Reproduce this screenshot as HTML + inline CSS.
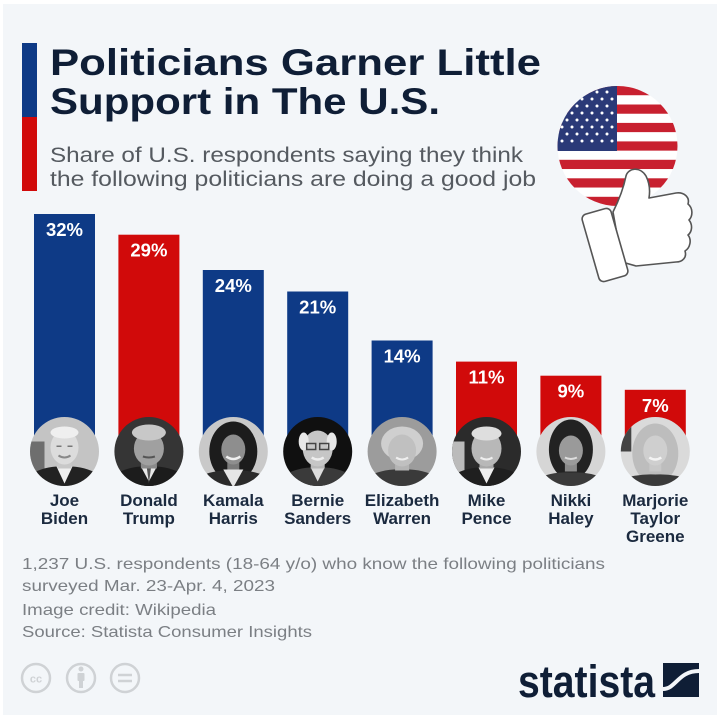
<!DOCTYPE html>
<html><head><meta charset="utf-8">
<style>
html,body{margin:0;padding:0;background:#fff;}
svg{display:block;}
text{font-family:"Liberation Sans",sans-serif;}
</style></head>
<body>
<svg width="720" height="720" viewBox="0 0 720 720" xmlns="http://www.w3.org/2000/svg">
<defs>
  <clipPath id="pc"><circle cx="0" cy="0" r="34.5"/></clipPath>
  <clipPath id="fc"><circle cx="617.5" cy="146" r="60"/></clipPath>
</defs>
<rect x="0" y="0" width="720" height="720" fill="#ffffff"/>
<rect x="3" y="4" width="714" height="711" fill="#f3f6f9"/>

<!-- left accent bar -->
<rect x="22" y="43" width="15" height="74" fill="#0e3a86"/>
<rect x="22" y="117" width="15" height="74" fill="#d10a0a"/>

<!-- title -->
<text x="50" y="75" font-size="37" font-weight="bold" fill="#0f1e36" textLength="491" lengthAdjust="spacingAndGlyphs">Politicians Garner Little</text>
<text x="50" y="114" font-size="37" font-weight="bold" fill="#0f1e36" textLength="390" lengthAdjust="spacingAndGlyphs">Support in The U.S.</text>
<text x="50" y="162" font-size="21" fill="#555a60" textLength="473" lengthAdjust="spacingAndGlyphs">Share of U.S. respondents saying they think</text>
<text x="50" y="186" font-size="21" fill="#555a60" textLength="486" lengthAdjust="spacingAndGlyphs">the following politicians are doing a good job</text>

<!-- flag -->
<g clip-path="url(#fc)">
  <rect x="555" y="84" width="125" height="125" fill="#ffffff"/>
  <g fill="#c8202f">
    <rect x="555" y="86" width="125" height="9.23"/>
    <rect x="555" y="104.5" width="125" height="9.23"/>
    <rect x="555" y="122.9" width="125" height="9.23"/>
    <rect x="555" y="141.4" width="125" height="9.23"/>
    <rect x="555" y="159.8" width="125" height="9.23"/>
    <rect x="555" y="178.3" width="125" height="9.23"/>
    <rect x="555" y="196.8" width="125" height="9.23"/>
  </g>
  <rect x="555" y="84" width="62" height="67" fill="#2b3a78"/>
  <g fill="#ffffff">
    <circle cx="567" cy="92" r="1.5"/><circle cx="577" cy="92" r="1.5"/><circle cx="587" cy="92" r="1.5"/><circle cx="597" cy="92" r="1.5"/><circle cx="607" cy="92" r="1.5"/>
    <circle cx="562" cy="99" r="1.5"/><circle cx="572" cy="99" r="1.5"/><circle cx="582" cy="99" r="1.5"/><circle cx="592" cy="99" r="1.5"/><circle cx="602" cy="99" r="1.5"/><circle cx="612" cy="99" r="1.5"/>
    <circle cx="567" cy="106" r="1.5"/><circle cx="577" cy="106" r="1.5"/><circle cx="587" cy="106" r="1.5"/><circle cx="597" cy="106" r="1.5"/><circle cx="607" cy="106" r="1.5"/>
    <circle cx="562" cy="113" r="1.5"/><circle cx="572" cy="113" r="1.5"/><circle cx="582" cy="113" r="1.5"/><circle cx="592" cy="113" r="1.5"/><circle cx="602" cy="113" r="1.5"/><circle cx="612" cy="113" r="1.5"/>
    <circle cx="567" cy="120" r="1.5"/><circle cx="577" cy="120" r="1.5"/><circle cx="587" cy="120" r="1.5"/><circle cx="597" cy="120" r="1.5"/><circle cx="607" cy="120" r="1.5"/>
    <circle cx="562" cy="127" r="1.5"/><circle cx="572" cy="127" r="1.5"/><circle cx="582" cy="127" r="1.5"/><circle cx="592" cy="127" r="1.5"/><circle cx="602" cy="127" r="1.5"/><circle cx="612" cy="127" r="1.5"/>
    <circle cx="567" cy="134" r="1.5"/><circle cx="577" cy="134" r="1.5"/><circle cx="587" cy="134" r="1.5"/><circle cx="597" cy="134" r="1.5"/><circle cx="607" cy="134" r="1.5"/>
    <circle cx="562" cy="141" r="1.5"/><circle cx="572" cy="141" r="1.5"/><circle cx="582" cy="141" r="1.5"/><circle cx="592" cy="141" r="1.5"/><circle cx="602" cy="141" r="1.5"/><circle cx="612" cy="141" r="1.5"/>
  </g>
</g>

<!-- thumbs up -->
<g fill="#ffffff" stroke="#555" stroke-width="1.6" stroke-linejoin="round">
  <path d="M613,212 C619,200 624,186 626,176 C628,168 640,166 646,176 C650,184 650,192 649,198 L676,193 C684,192 690,197 688,204 C693,208 693,216 689,220 C693,225 692,232 688,235 C692,240 690,248 685,251 C687,257 683,262 676,262 L636,266 L622,262 Z"/>
  <rect x="590" y="210" width="30" height="70" rx="5" transform="rotate(-16 605 245)"/>
</g>

<!-- bars -->
<g>
  <rect x="34" y="214" width="61" height="236" fill="#0e3a86"/>
  <rect x="118.4" y="234.7" width="61" height="215.3" fill="#d10a0a"/>
  <rect x="202.8" y="270" width="61" height="180" fill="#0e3a86"/>
  <rect x="287.2" y="291.5" width="61" height="158.5" fill="#0e3a86"/>
  <rect x="371.6" y="340.5" width="61" height="109.5" fill="#0e3a86"/>
  <rect x="456" y="361.6" width="61" height="88.4" fill="#d10a0a"/>
  <rect x="540.4" y="375.7" width="61" height="74.3" fill="#d10a0a"/>
  <rect x="624.8" y="389.8" width="61" height="60.2" fill="#d10a0a"/>
</g>
<g font-size="18.5" font-weight="bold" fill="#ffffff" text-anchor="middle">
  <text x="64.5" y="236">32%</text>
  <text x="148.9" y="256.7">29%</text>
  <text x="233.3" y="292">24%</text>
  <text x="317.7" y="313.5">21%</text>
  <text x="402.1" y="362.5">14%</text>
  <text x="486.5" y="383.6">11%</text>
  <text x="570.9" y="397.7">9%</text>
  <text x="655.3" y="411.8">7%</text>
</g>

<!-- portraits -->
<!-- Biden -->
<g transform="translate(64.5,451.5)" clip-path="url(#pc)">
  <rect x="-36" y="-36" width="72" height="72" fill="#c4c4c4"/>
  <rect x="-36" y="-10" width="16" height="46" fill="#6e6e6e"/>
  <path d="M-36,36 L-36,24 Q-20,14 0,15 Q20,14 36,24 L36,36 Z" fill="#222"/>
  <path d="M-8,15 L0,32 L8,15 Z" fill="#f0f0f0"/>
  <rect x="-7" y="4" width="14" height="13" fill="#c8c8c8"/>
  <ellipse cx="0" cy="-4" rx="14" ry="17" fill="#dcdcdc"/>
  <ellipse cx="0" cy="-19" rx="14" ry="6" fill="#efefef"/>
  <path d="M-6,4 Q0,8 6,4" stroke="#888" stroke-width="2" fill="none"/>
  <rect x="-8" y="-6" width="5" height="1.5" fill="#777"/><rect x="3" y="-6" width="5" height="1.5" fill="#777"/>
</g>
<!-- Trump -->
<g transform="translate(148.9,451.5)" clip-path="url(#pc)">
  <rect x="-36" y="-36" width="72" height="72" fill="#353535"/>
  <path d="M-36,36 L-36,24 Q-20,14 0,15 Q20,14 36,24 L36,36 Z" fill="#1c1c1c"/>
  <path d="M-8,15 L0,30 L8,15 Z" fill="#e8e8e8"/>
  <path d="M-2,17 L0,32 L2,17 Z" fill="#555"/>
  <rect x="-8" y="4" width="16" height="13" fill="#8a8a8a"/>
  <ellipse cx="0" cy="-3" rx="15" ry="17" fill="#a0a0a0"/>
  <ellipse cx="0" cy="-19" rx="17" ry="8" fill="#c8c8c8"/>
  <path d="M-6,5 Q0,7 6,5" stroke="#555" stroke-width="2" fill="none"/>
</g>
<!-- Harris -->
<g transform="translate(233.3,451.5)" clip-path="url(#pc)">
  <rect x="-36" y="-36" width="72" height="72" fill="#c9c9c9"/>
  <ellipse cx="0" cy="0" rx="24" ry="30" fill="#1c1c1c"/>
  <path d="M-36,36 L-36,26 Q-20,18 0,19 Q20,18 36,26 L36,36 Z" fill="#2a2a2a"/>
  <path d="M-10,18 L0,36 L10,18 Z" fill="#e6e6e6"/>
  <rect x="-6" y="6" width="12" height="12" fill="#7a7a7a"/>
  <ellipse cx="0" cy="-2" rx="12" ry="15" fill="#8e8e8e"/>
  <path d="M-7,5 Q0,10 7,5" stroke="#f0f0f0" stroke-width="2.5" fill="none"/>
</g>
<!-- Sanders -->
<g transform="translate(317.7,451.5)" clip-path="url(#pc)">
  <rect x="-36" y="-36" width="72" height="72" fill="#101010"/>
  <path d="M-36,36 L-36,25 Q-20,15 0,16 Q20,15 36,25 L36,36 Z" fill="#3a3a3a"/>
  <path d="M-7,16 L0,30 L7,16 Z" fill="#dcdcdc"/>
  <rect x="-7" y="4" width="14" height="13" fill="#b8b8b8"/>
  <ellipse cx="0" cy="-3" rx="15" ry="18" fill="#c6c6c6"/>
  <ellipse cx="-14" cy="-10" rx="5" ry="9" fill="#e8e8e8"/>
  <ellipse cx="14" cy="-10" rx="5" ry="9" fill="#e8e8e8"/>
  <rect x="-11" y="-8" width="9" height="6" fill="none" stroke="#444" stroke-width="1.5"/>
  <rect x="2" y="-8" width="9" height="6" fill="none" stroke="#444" stroke-width="1.5"/>
  <path d="M-6,6 Q0,10 6,6" stroke="#eee" stroke-width="2.5" fill="none"/>
</g>
<!-- Warren -->
<g transform="translate(402.1,451.5)" clip-path="url(#pc)">
  <rect x="-36" y="-36" width="72" height="72" fill="#9c9c9c"/>
  <path d="M-36,36 L-36,26 Q-20,17 0,18 Q20,17 36,26 L36,36 Z" fill="#3a3a3a"/>
  <rect x="-7" y="5" width="14" height="14" fill="#b4b4b4"/>
  <ellipse cx="0" cy="-8" rx="21" ry="17" fill="#cfcfcf"/>
  <ellipse cx="0" cy="-1" rx="14" ry="16" fill="#c0c0c0"/>
  <path d="M-6,6 Q0,10 6,6" stroke="#eee" stroke-width="2" fill="none"/>
</g>
<!-- Pence -->
<g transform="translate(486.5,451.5)" clip-path="url(#pc)">
  <rect x="-36" y="-36" width="72" height="72" fill="#2b2b2b"/>
  <rect x="-36" y="-10" width="14" height="46" fill="#bbbbbb"/>
  <path d="M-36,36 L-36,25 Q-20,15 0,16 Q20,15 36,25 L36,36 Z" fill="#1f1f1f"/>
  <path d="M-8,16 L0,32 L8,16 Z" fill="#eeeeee"/>
  <rect x="-7" y="4" width="14" height="13" fill="#a8a8a8"/>
  <ellipse cx="0" cy="-3" rx="15" ry="18" fill="#b8b8b8"/>
  <ellipse cx="0" cy="-18" rx="15" ry="7" fill="#dedede"/>
  <path d="M-6,6 Q0,10 6,6" stroke="#eee" stroke-width="2" fill="none"/>
</g>
<!-- Haley -->
<g transform="translate(570.9,451.5)" clip-path="url(#pc)">
  <rect x="-36" y="-36" width="72" height="72" fill="#d6d6d6"/>
  <ellipse cx="0" cy="-2" rx="22" ry="30" fill="#222"/>
  <path d="M-36,36 L-36,28 Q-20,20 0,21 Q20,20 36,28 L36,36 Z" fill="#3a3a3a"/>
  <rect x="-6" y="6" width="12" height="14" fill="#8a8a8a"/>
  <ellipse cx="0" cy="-1" rx="12" ry="15" fill="#9a9a9a"/>
  <path d="M-6,6 Q0,9 6,6" stroke="#ddd" stroke-width="2" fill="none"/>
</g>
<!-- Greene -->
<g transform="translate(655.3,451.5)" clip-path="url(#pc)">
  <rect x="-36" y="-36" width="72" height="72" fill="#dadada"/>
  <rect x="-36" y="-30" width="12" height="30" fill="#444"/>
  <ellipse cx="0" cy="2" rx="23" ry="30" fill="#bdbdbd"/>
  <path d="M-36,36 L-36,29 Q-20,22 0,23 Q20,22 36,29 L36,36 Z" fill="#3a3a3a"/>
  <rect x="-6" y="6" width="12" height="14" fill="#c8c8c8"/>
  <ellipse cx="0" cy="-1" rx="12" ry="15" fill="#cfcfcf"/>
  <path d="M-6,6 Q0,10 6,6" stroke="#f4f4f4" stroke-width="2.5" fill="none"/>
</g>

<!-- names -->
<g font-size="17" font-weight="bold" fill="#1b2a3f" text-anchor="middle">
  <text x="64.5" y="506">Joe</text><text x="64.5" y="524">Biden</text>
  <text x="148.9" y="506">Donald</text><text x="148.9" y="524">Trump</text>
  <text x="233.3" y="506">Kamala</text><text x="233.3" y="524">Harris</text>
  <text x="317.7" y="506">Bernie</text><text x="317.7" y="524">Sanders</text>
  <text x="402.1" y="506">Elizabeth</text><text x="402.1" y="524">Warren</text>
  <text x="486.5" y="506">Mike</text><text x="486.5" y="524">Pence</text>
  <text x="570.9" y="506">Nikki</text><text x="570.9" y="524">Haley</text>
  <text x="655.3" y="506">Marjorie</text><text x="655.3" y="524">Taylor</text><text x="655.3" y="542">Greene</text>
</g>

<!-- footnotes -->
<g font-size="16" fill="#7b7f84">
  <text x="22" y="569" textLength="583" lengthAdjust="spacingAndGlyphs">1,237 U.S. respondents (18-64 y/o) who know the following politicians</text>
  <text x="22" y="591" textLength="253" lengthAdjust="spacingAndGlyphs">surveyed Mar. 23-Apr. 4, 2023</text>
  <text x="22" y="615" textLength="194" lengthAdjust="spacingAndGlyphs">Image credit: Wikipedia</text>
  <text x="22" y="637" textLength="290" lengthAdjust="spacingAndGlyphs">Source: Statista Consumer Insights</text>
</g>

<!-- cc icons -->
<g fill="none" stroke="#cfd2d5" stroke-width="2.5">
  <circle cx="36" cy="678" r="14"/>
  <circle cx="81" cy="678" r="14"/>
  <circle cx="125" cy="678" r="14"/>
  <line x1="118" y1="675" x2="132" y2="675"/>
  <line x1="118" y1="681" x2="132" y2="681"/>
</g>
<text x="36" y="682.5" font-size="11" font-weight="bold" fill="#cfd2d5" text-anchor="middle">cc</text>
<g fill="#cfd2d5">
  <circle cx="81" cy="669" r="2.5"/>
  <rect x="77.5" y="673" width="7" height="8" rx="1"/>
  <rect x="79" y="680" width="4" height="8"/>
</g>

<!-- statista logo -->
<text x="518" y="697" font-size="45" font-weight="bold" fill="#0f1e36" textLength="137" lengthAdjust="spacingAndGlyphs">statista</text>
<rect x="663" y="663" width="36" height="34" fill="#0f1e36"/>
<path d="M663,689 C676,689 678,671 699,671" stroke="#f3f6f9" stroke-width="4" fill="none"/>
</svg>
</body></html>
